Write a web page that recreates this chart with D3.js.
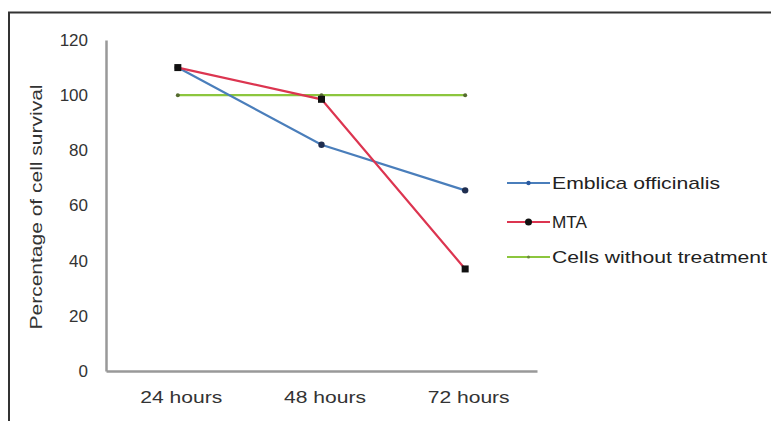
<!DOCTYPE html>
<html><head><meta charset="utf-8">
<script src="https://cdn.jsdelivr.net/npm/d3@7"></script>
<style>body{margin:0;background:#fff}svg{display:block}</style>
</head><body>
<svg id="c" width="771" height="421"></svg>
<script>
const categories = ["24 hours", "48 hours", "72 hours"];
const yTicks = [0, 20, 40, 60, 80, 100, 120];
const emblica = [110, 82, 65.5];
const mta = [110, 98.5, 37];
const control = [100, 100, 100];
const seriesNames = ["Emblica officinalis", "MTA", "Cells without treatment"];

const svg = d3.select("#c");
const font = "'Liberation Sans', Arial, sans-serif";

// outer frame
svg.append("path").attr("d", "M9,421 V12.5 H771").attr("fill", "none")
  .attr("stroke", "#333").attr("stroke-width", 2);

const x = d3.scaleBand().domain(categories).range([106, 537]);
const y = d3.scaleLinear().domain([0, 120]).range([371, 40]);

const xAxis = svg.append("g").attr("transform", "translate(0,371)")
  .call(d3.axisBottom(x).tickSize(0).tickPadding(20));
const yAxis = svg.append("g").attr("transform", "translate(106,0)")
  .call(d3.axisLeft(y).tickValues(yTicks).tickSize(0).tickPadding(18));
[xAxis, yAxis].forEach(a => {
  a.select(".domain").attr("stroke", "#999").attr("stroke-width", 2.5);
  a.selectAll("text").attr("font-family", font).attr("font-size", 17).attr("fill", "#333");
});
xAxis.selectAll("text").attr("dx", 3.5).attr("textLength", 82).attr("lengthAdjust", "spacingAndGlyphs");

svg.append("text").attr("transform", "translate(42,207) rotate(-90)")
  .attr("text-anchor", "middle").attr("font-family", font).attr("font-size", 17)
  .attr("textLength", 245).attr("lengthAdjust", "spacingAndGlyphs")
  .attr("fill", "#333").text("Percentage of cell survival");

const cx = c => x(c) + x.bandwidth() / 2;
const series = [
  {name: seriesNames[2], vals: control, color: "#8cc63e", marker: "dot", ms: 2},
  {name: seriesNames[0], vals: emblica, color: "#4a7ebb", marker: "circle", ms: 3.2},
  {name: seriesNames[1], vals: mta, color: "#dc3550", marker: "square", ms: 7}
];
const line = d3.line().x((d, i) => cx(categories[i])).y(d => y(d));

function drawMarker(g, s, px, py) {
  if (s.marker === "square") {
    g.append("rect").attr("x", px - s.ms / 2).attr("y", py - s.ms / 2)
      .attr("width", s.ms).attr("height", s.ms).attr("fill", "#111");
  } else if (s.marker === "circle") {
    g.append("circle").attr("cx", px).attr("cy", py).attr("r", s.ms).attr("fill", "#1f2d4f");
  } else {
    g.append("circle").attr("cx", px).attr("cy", py).attr("r", s.ms).attr("fill", "#556b2f");
  }
}

series.forEach(s => {
  svg.append("path").datum(s.vals).attr("d", line).attr("fill", "none")
    .attr("stroke", s.color).attr("stroke-width", 2.2);
  const g = svg.append("g");
  s.vals.forEach((v, i) => drawMarker(g, s, cx(categories[i]), y(v)));
});

// legend
const legendY = [183, 222, 257];
const legendLen = [168, 35, 215];
const order = [series[1], series[2], series[0]];
order.forEach((s, i) => {
  const ly = legendY[i];
  svg.append("line").attr("x1", 507).attr("x2", 550).attr("y1", ly).attr("y2", ly)
    .attr("stroke", s.color).attr("stroke-width", 2.2);
  if (s.marker === "square") {
    svg.append("circle").attr("cx", 528.5).attr("cy", ly).attr("r", 3.5).attr("fill", "#111");
  } else if (s.marker === "circle") {
    svg.append("circle").attr("cx", 528.5).attr("cy", ly).attr("r", 2.2).attr("fill", "#2a5aa0");
  } else {
    svg.append("circle").attr("cx", 528.5).attr("cy", ly).attr("r", 1.5).attr("fill", "#6a8a3a");
  }
  svg.append("text").attr("x", 552).attr("y", ly).attr("dy", "0.35em")
    .attr("font-family", font).attr("font-size", 17).attr("fill", "#222")
    .attr("textLength", legendLen[i]).attr("lengthAdjust", "spacingAndGlyphs").text(s.name);
});
</script>
</body></html>
